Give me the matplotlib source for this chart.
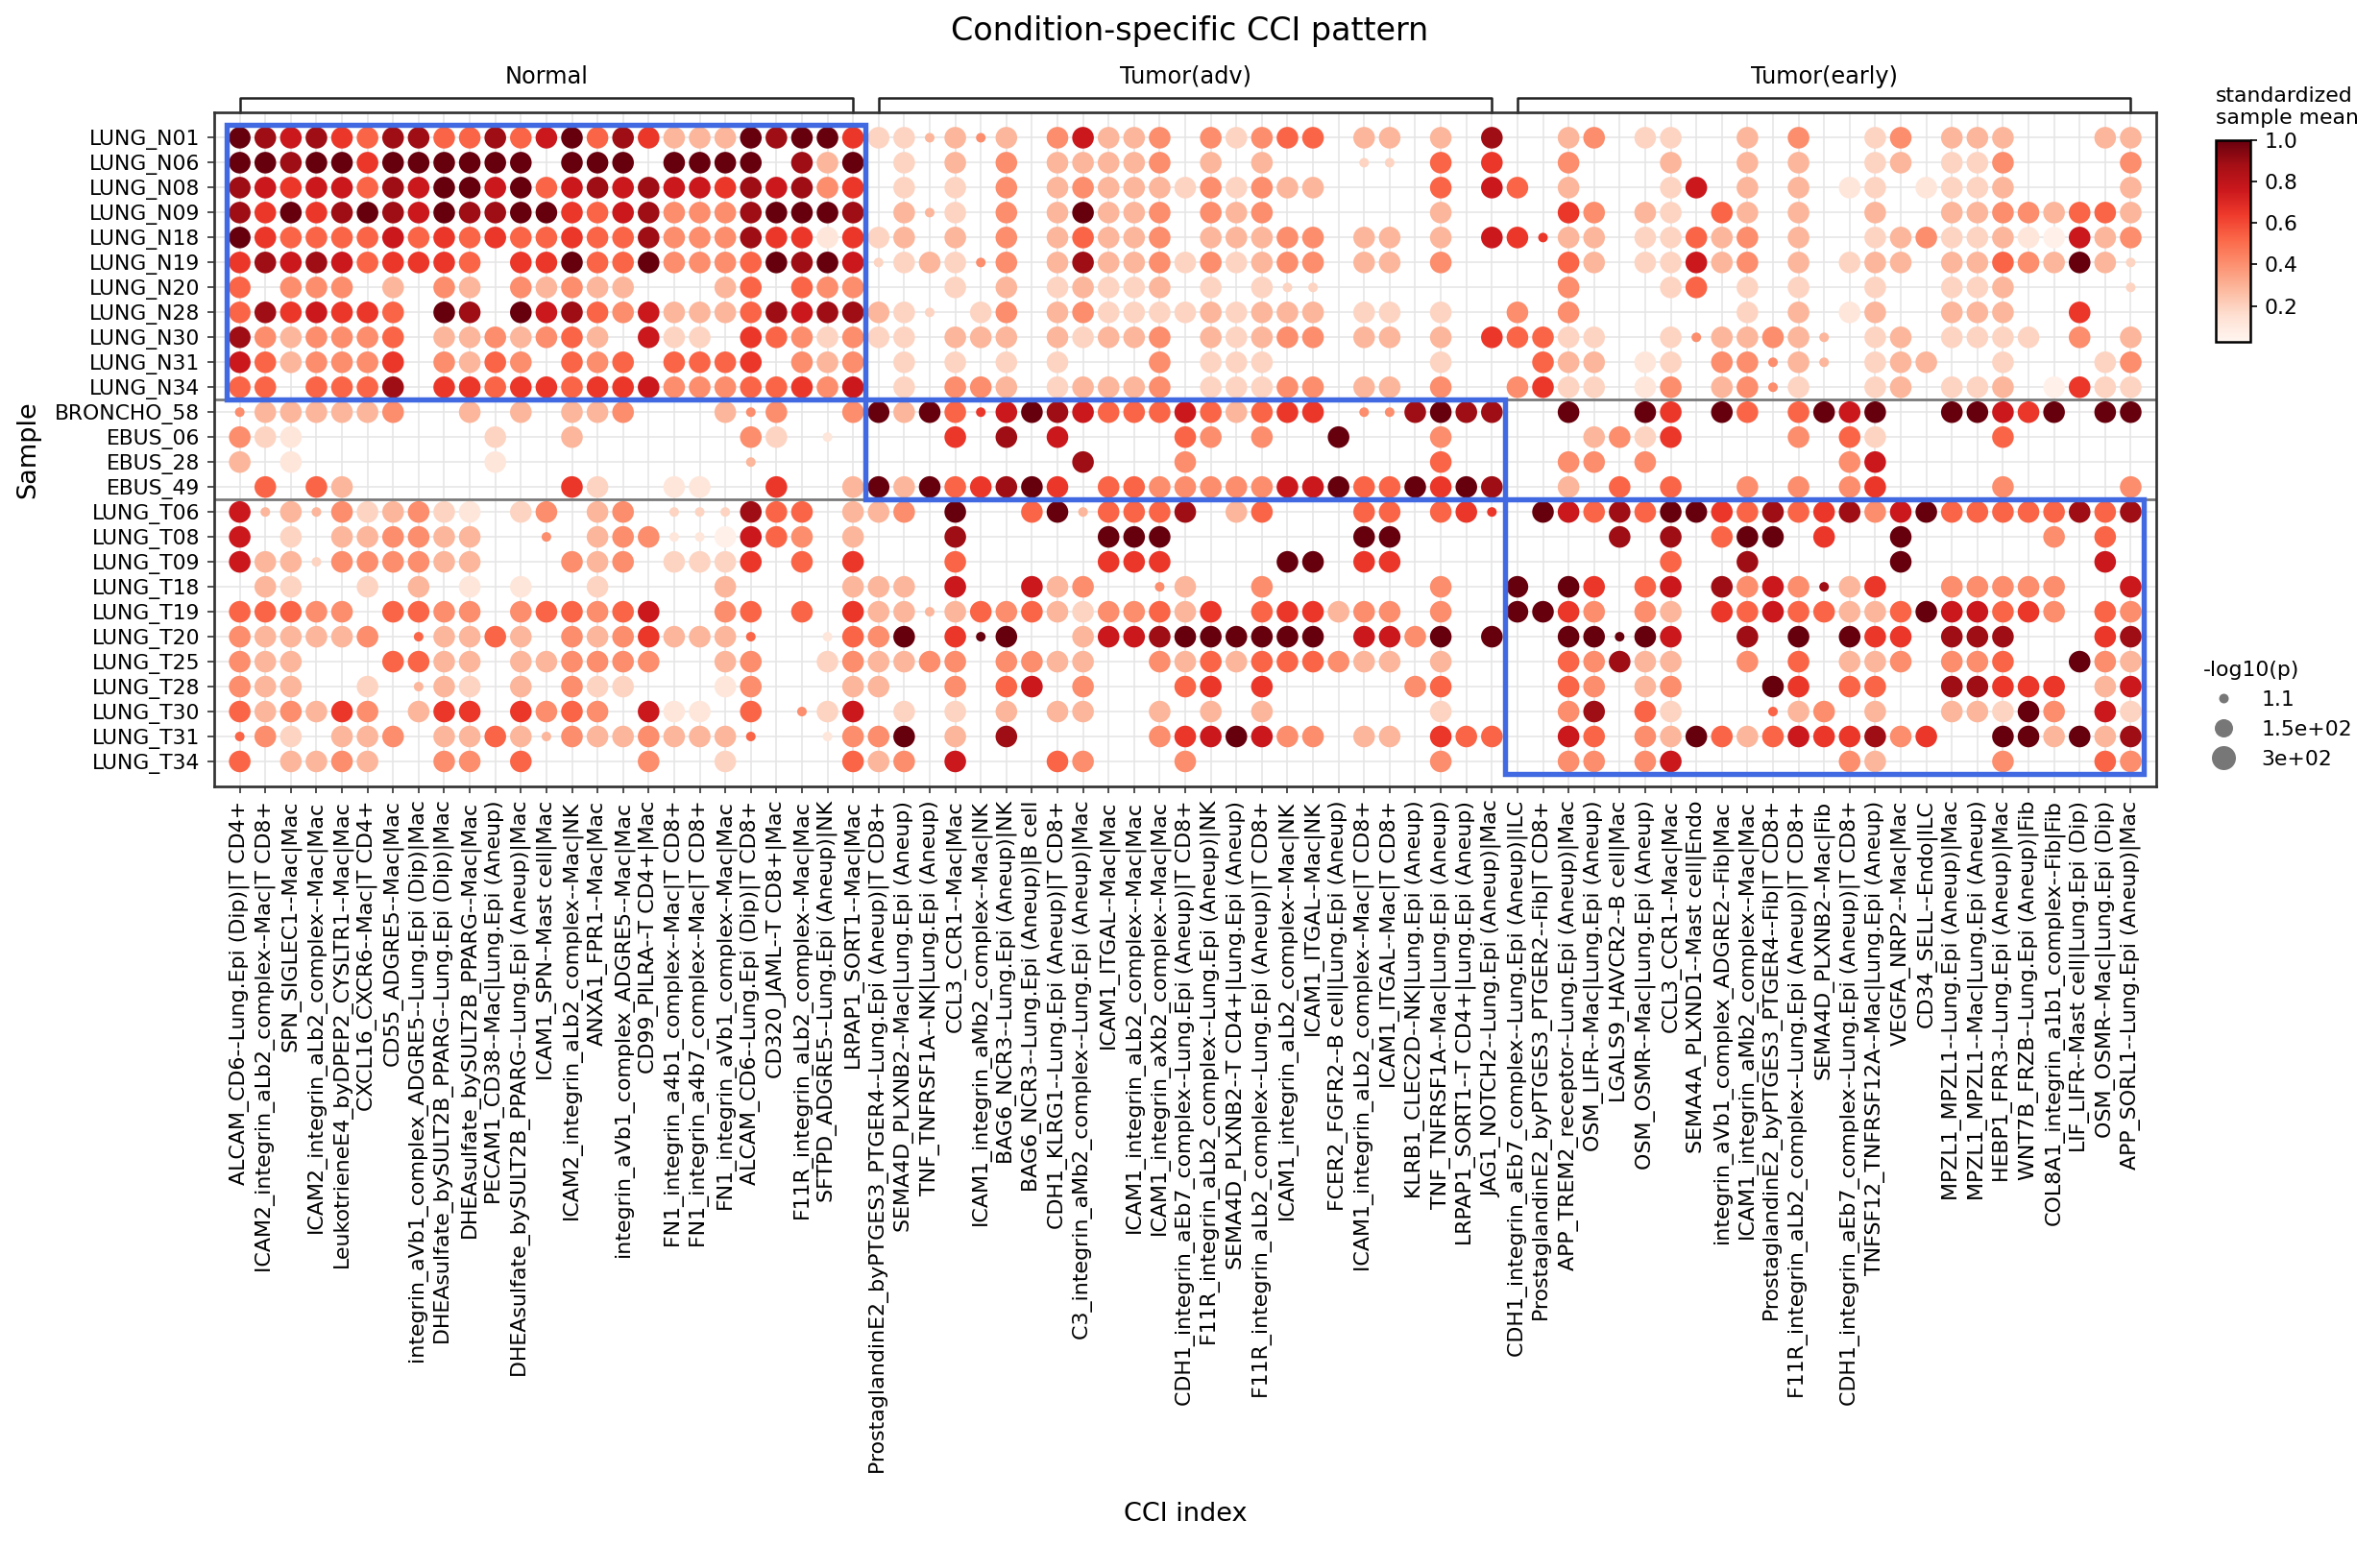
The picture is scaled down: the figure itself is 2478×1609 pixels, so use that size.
import matplotlib
matplotlib.use("Agg")
import matplotlib.pyplot as plt
import matplotlib.transforms as mtransforms
from matplotlib.patches import Rectangle
from matplotlib.lines import Line2D
import numpy as np

SAMPLES = ["LUNG_N01", "LUNG_N06", "LUNG_N08", "LUNG_N09", "LUNG_N18", "LUNG_N19",
           "LUNG_N20", "LUNG_N28", "LUNG_N30", "LUNG_N31", "LUNG_N34",
           "BRONCHO_58", "EBUS_06", "EBUS_28", "EBUS_49",
           "LUNG_T06", "LUNG_T08", "LUNG_T09", "LUNG_T18", "LUNG_T19", "LUNG_T20",
           "LUNG_T25", "LUNG_T28", "LUNG_T30", "LUNG_T31", "LUNG_T34"]

CCI_NORMAL = [
    "ALCAM_CD6--Lung.Epi (Dip)|T CD4+",
    "ICAM2_integrin_aLb2_complex--Mac|T CD8+",
    "SPN_SIGLEC1--Mac|Mac",
    "ICAM2_integrin_aLb2_complex--Mac|Mac",
    "LeukotrieneE4_byDPEP2_CYSLTR1--Mac|Mac",
    "CXCL16_CXCR6--Mac|T CD4+",
    "CD55_ADGRE5--Mac|Mac",
    "integrin_aVb1_complex_ADGRE5--Lung.Epi (Dip)|Mac",
    "DHEAsulfate_bySULT2B_PPARG--Lung.Epi (Dip)|Mac",
    "DHEAsulfate_bySULT2B_PPARG--Mac|Mac",
    "PECAM1_CD38--Mac|Lung.Epi (Aneup)",
    "DHEAsulfate_bySULT2B_PPARG--Lung.Epi (Aneup)|Mac",
    "ICAM1_SPN--Mast cell|Mac",
    "ICAM2_integrin_aLb2_complex--Mac|NK",
    "ANXA1_FPR1--Mac|Mac",
    "integrin_aVb1_complex_ADGRE5--Mac|Mac",
    "CD99_PILRA--T CD4+|Mac",
    "FN1_integrin_a4b1_complex--Mac|T CD8+",
    "FN1_integrin_a4b7_complex--Mac|T CD8+",
    "FN1_integrin_aVb1_complex--Mac|Mac",
    "ALCAM_CD6--Lung.Epi (Dip)|T CD8+",
    "CD320_JAML--T CD8+|Mac",
    "F11R_integrin_aLb2_complex--Mac|Mac",
    "SFTPD_ADGRE5--Lung.Epi (Aneup)|NK",
    "LRPAP1_SORT1--Mac|Mac",
]
CCI_ADV = [
    "ProstaglandinE2_byPTGES3_PTGER4--Lung.Epi (Aneup)|T CD8+",
    "SEMA4D_PLXNB2--Mac|Lung.Epi (Aneup)",
    "TNF_TNFRSF1A--NK|Lung.Epi (Aneup)",
    "CCL3_CCR1--Mac|Mac",
    "ICAM1_integrin_aMb2_complex--Mac|NK",
    "BAG6_NCR3--Lung.Epi (Aneup)|NK",
    "BAG6_NCR3--Lung.Epi (Aneup)|B cell",
    "CDH1_KLRG1--Lung.Epi (Aneup)|T CD8+",
    "C3_integrin_aMb2_complex--Lung.Epi (Aneup)|Mac",
    "ICAM1_ITGAL--Mac|Mac",
    "ICAM1_integrin_aLb2_complex--Mac|Mac",
    "ICAM1_integrin_aXb2_complex--Mac|Mac",
    "CDH1_integrin_aEb7_complex--Lung.Epi (Aneup)|T CD8+",
    "F11R_integrin_aLb2_complex--Lung.Epi (Aneup)|NK",
    "SEMA4D_PLXNB2--T CD4+|Lung.Epi (Aneup)",
    "F11R_integrin_aLb2_complex--Lung.Epi (Aneup)|T CD8+",
    "ICAM1_integrin_aLb2_complex--Mac|NK",
    "ICAM1_ITGAL--Mac|NK",
    "FCER2_FGFR2--B cell|Lung.Epi (Aneup)",
    "ICAM1_integrin_aLb2_complex--Mac|T CD8+",
    "ICAM1_ITGAL--Mac|T CD8+",
    "KLRB1_CLEC2D--NK|Lung.Epi (Aneup)",
    "TNF_TNFRSF1A--Mac|Lung.Epi (Aneup)",
    "LRPAP1_SORT1--T CD4+|Lung.Epi (Aneup)",
    "JAG1_NOTCH2--Lung.Epi (Aneup)|Mac",
]
CCI_EARLY = [
    "CDH1_integrin_aEb7_complex--Lung.Epi (Aneup)|ILC",
    "ProstaglandinE2_byPTGES3_PTGER2--Fib|T CD8+",
    "APP_TREM2_receptor--Lung.Epi (Aneup)|Mac",
    "OSM_LIFR--Mac|Lung.Epi (Aneup)",
    "LGALS9_HAVCR2--B cell|Mac",
    "OSM_OSMR--Mac|Lung.Epi (Aneup)",
    "CCL3_CCR1--Mac|Mac",
    "SEMA4A_PLXND1--Mast cell|Endo",
    "integrin_aVb1_complex_ADGRE2--Fib|Mac",
    "ICAM1_integrin_aMb2_complex--Mac|Mac",
    "ProstaglandinE2_byPTGES3_PTGER4--Fib|T CD8+",
    "F11R_integrin_aLb2_complex--Lung.Epi (Aneup)|T CD8+",
    "SEMA4D_PLXNB2--Mac|Fib",
    "CDH1_integrin_aEb7_complex--Lung.Epi (Aneup)|T CD8+",
    "TNFSF12_TNFRSF12A--Mac|Lung.Epi (Aneup)",
    "VEGFA_NRP2--Mac|Mac",
    "CD34_SELL--Endo|ILC",
    "MPZL1_MPZL1--Lung.Epi (Aneup)|Mac",
    "MPZL1_MPZL1--Mac|Lung.Epi (Aneup)",
    "HEBP1_FPR3--Lung.Epi (Aneup)|Mac",
    "WNT7B_FRZB--Lung.Epi (Aneup)|Fib",
    "COL8A1_integrin_a1b1_complex--Fib|Fib",
    "LIF_LIFR--Mast cell|Lung.Epi (Dip)",
    "OSM_OSMR--Mac|Lung.Epi (Dip)",
    "APP_SORL1--Lung.Epi (Aneup)|Mac",
]
GROUP_NAMES = ["Normal", "Tumor(adv)", "Tumor(early)"]
GROUP_SAMPLE_ROWS = [(0, 10), (11, 14), (15, 25)]

# one string per sample, one char per CCI (Normal | Tumor(adv) | Tumor(early) blocks)
# '.' = no dot, '0'-'9' = colour level of a full-size dot, 'a'-'j' = same levels, small dot
ROW_CODES = [
    "9878658855857958633398996" "22d3e3.47334.42455.33.3.8" "..34.22..3.4..24.333...33",
    "998996999999.999.9999.839" ".2.3.4.33334.3.3...cc.5.6" "..4...3..3.3..23.224....4",
    "8767758799795787877687846" ".2.2.4.34333242433....5.7" "5.3...27.3.3.12.1223....3",
    "8696898798899657844489998" ".3d2.4.39334.434......3.." "..64.32.53.3..3..33443553",
    "9655557565655655844486616" "23.3.4.35334.33344.33.3.7" "6g33.22534.3..23422310734",
    "6878756665.66955944459897" "c232e4.38334242344.33.4.." "..53.22734.3.233.3354393c",
    "5.444.3.43.43433...35.544" "...2.3.23223.2.2cc......." "..4...25.2.2..2..223....c",
    "5867665.98.97854733358788" "32c.24.34222232333.22.2.." "4.4......2.3.13..333..6..",
    "8434445.3343453.722.65424" "22.333.32334.32344.33.3.6" "5522..2e3343d.23.2222.4.3",
    "7534446.4354.545.5556.434" ".2.2.2.2...4.222......2.." ".533.12.44e3d.233..2...24",
    "55.5558.66566566744455647" ".2.443.23334.22244.33.4.." "4622.14.34e2..23.223.0622",
    "e333334..3.3.334...3e4..4" "9395g7987555753566.ee8988" "..9..96.95.5979..99769.99",
    "421.......2..3......42.b." "...6.8.7....54.4..9...4.." "...3426....4.52....5.....",
    "3.1.......1.........d...." "........8...4.........5.." "..44.4.......47..........",
    ".5.53........62..11..6..3" "93956896.5544444779559698" "..3.5.5..4.4.46....4....4",
    "7d3d423421.24.34.ccc855.3" "34.9..59d5558.35...55.56g" ".975859965856847955555858",
    "7.2.334433..e.344bb0754.3" "...8.....999.......99...." "....8.8.599.6..9.....4.5.",
    "733c444433...434.2226.5.6" "...5.....666....99.66...." "......5..8.....9.......7.",
    ".32..2.3.1.1..2....3....3" "33.7..734..e3..4......4.." "9.96.57.8474i36..44444..7",
    "55544.5544.455457..45.5.6" "33d35453244536.566344.4.." "9964.43.65755335977564.54",
    "433334.f3353.4346333f..b5" "49.6j9..3778999999.7749.9" "..99j97..8.9.966.888...68",
    "433...5533.334444..34..24" "3344.4433..4353555433.3.." "..54833..4.5.334.445..943",
    "433..2.d32.3.422...14...3" "3..4.57.4...56.6.....45.." "..54.34...96.55..88666.37",
    "534364.366.6454.711.5.e27" ".2.2.3.33..3.3.3......2.." "..48.52...f34.3..33294.72",
    "f42.334.3353d4334333f..b4" "49.3.8.....4679744.33.655" "..75.439535766846..993938",
    "5.3343..44.5....4..2....5" "34.7...54...4.........4.." "..44.47......43....4...54",
]
# standardized sample mean read for each colour level
LEVEL_MEAN = [0.06, 0.12, 0.19, 0.29, 0.41, 0.53, 0.65, 0.76, 0.89, 1.0]
# -log10(p)
NEGLOGP_FULL = 233.0
NEGLOGP_SMALL = 1.3
LEGEND_P = [1.1, 1.5e2, 3e2]

CCI_LABELS = CCI_NORMAL + CCI_ADV + CCI_EARLY
n_rows, n_cols = len(SAMPLES), len(CCI_LABELS)

xs, ys, means, pvals = [], [], [], []
for r, code in enumerate(ROW_CODES):
    for c, ch in enumerate(code):
        if ch == '.':
            continue
        if ch.isdigit():
            lvl, p = int(ch), NEGLOGP_FULL
        else:
            lvl, p = ord(ch) - ord('a'), NEGLOGP_SMALL
        xs.append(c)
        ys.append(r)
        means.append(LEVEL_MEAN[lvl])
        pvals.append(p)

S_MIN, S_MAX = 23.0, 144.0


def dot_size(p):
    p = np.asarray(p, dtype=float)
    return S_MIN + (p - LEGEND_P[0]) / (LEGEND_P[-1] - LEGEND_P[0]) * (S_MAX - S_MIN)


fig = plt.figure(figsize=(2478 / 150, 1609 / 150), dpi=150)
ax = fig.add_axes([0.090, 0.491, 0.816, 0.436])

sc = ax.scatter(xs, ys, c=means, s=dot_size(pvals), cmap='Reds', vmin=0.03, vmax=1.0,
                edgecolors='none', zorder=3)

ax.set_xlim(-1, n_cols)
ax.set_ylim(n_rows, -1)
ax.set_xticks(range(n_cols))
ax.set_xticklabels(CCI_LABELS, rotation=90, fontsize=10.6)
ax.set_yticks(range(n_rows))
ax.set_yticklabels(SAMPLES, fontsize=10.5)
ax.grid(True, color='#e6e6e6', lw=0.8)
ax.set_axisbelow(True)
for sp in ax.spines.values():
    sp.set_color('#333333')
    sp.set_linewidth(1.3)
ax.tick_params(colors='#333333', labelcolor='black')
ax.set_xlabel("CCI index", fontsize=13, labelpad=14)
ax.set_ylabel("Sample", fontsize=13, labelpad=7)

# separators between sample groups
for (r0, r1) in GROUP_SAMPLE_ROWS[:-1]:
    ax.axhline(r1 + 0.5, color='#777777', lw=1.3, zorder=2)

# highlight boxes and brackets
trans = mtransforms.blended_transform_factory(ax.transData, ax.transAxes)
col0 = 0
for g, name in enumerate(GROUP_NAMES):
    ncol = len([CCI_NORMAL, CCI_ADV, CCI_EARLY][g])
    r0, r1 = GROUP_SAMPLE_ROWS[g]
    ax.add_patch(Rectangle((col0 - 0.5, r0 - 0.5), ncol, r1 - r0 + 1, fill=False,
                           edgecolor='#4169e1', lw=2.6, zorder=4, clip_on=False))
    c_end = col0 + ncol - 1
    ax.plot([col0, col0, c_end, c_end], [1.0, 1.022, 1.022, 1.0], color='#222222',
            lw=1.2, transform=trans, clip_on=False)
    ax.text((col0 + c_end) / 2, 1.054, name, transform=trans, ha='center', va='center',
            fontsize=11.5)
    col0 += ncol

fig.suptitle("Condition-specific CCI pattern", fontsize=16, y=0.980, va='center')

# colour bar
cax = fig.add_axes([0.931, 0.779, 0.0145, 0.1305])
cb = fig.colorbar(sc, cax=cax, ticks=[0.2, 0.4, 0.6, 0.8, 1.0])
cb.ax.tick_params(labelsize=10.5)
cb.outline.set_linewidth(1.2)
cax.text(0, 1.06, "standardized\nsample mean", transform=cax.transAxes, ha='left',
         va='bottom', fontsize=10.5, linespacing=1.2)

# size legend
handles = [Line2D([], [], ls='none', marker='o', color='#777777', markeredgewidth=0,
                  markersize=float(np.sqrt(dot_size(p)))) for p in LEGEND_P]
leg = fig.legend(handles, ["1.1", "1.5e+02", "3e+02"], title="-log10(p)",
                 loc='upper left', bbox_to_anchor=(0.922, 0.578), frameon=False,
                 fontsize=10.5, title_fontsize=10.5, handletextpad=0.8,
                 labelspacing=0.5, borderaxespad=0)
leg._legend_box.align = "left"

fig.savefig("out.png", dpi=150)
